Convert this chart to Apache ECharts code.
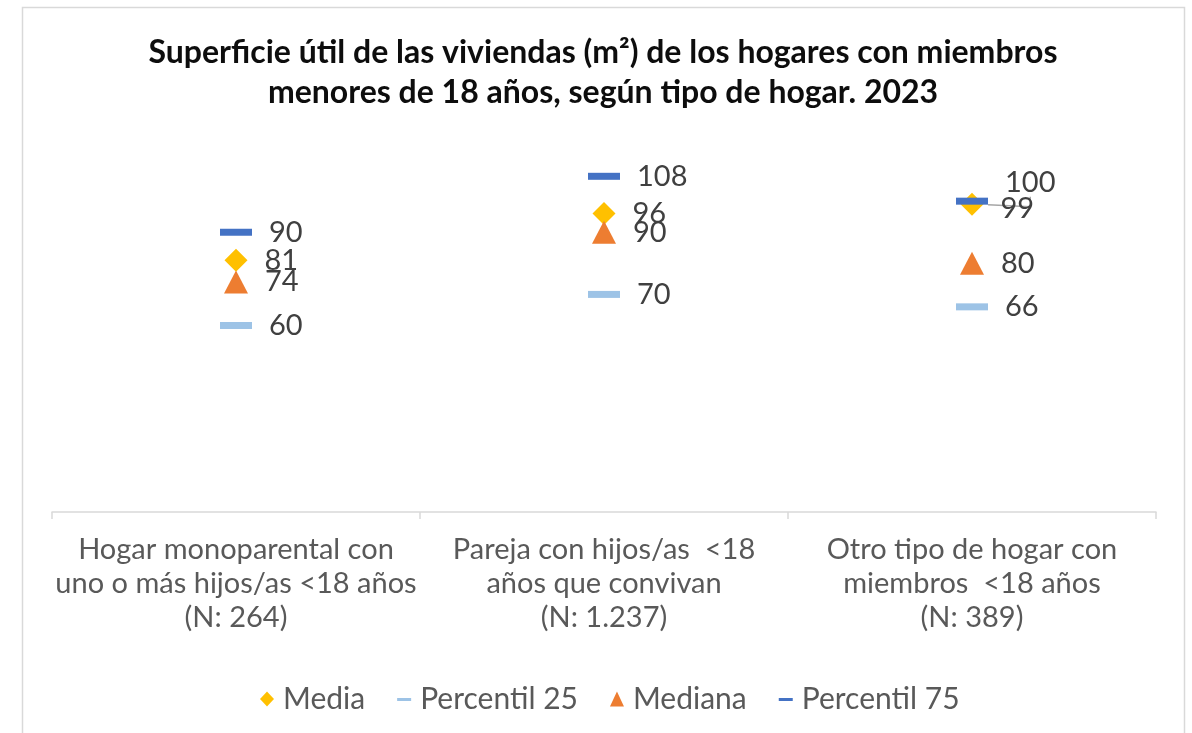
<!DOCTYPE html>
<html>
<head>
<meta charset="utf-8">
<title>Superficie útil de las viviendas</title>
<script src="https://cdn.jsdelivr.net/npm/echarts@6/dist/echarts.min.js"></script>
<style>
  html, body { margin: 0; padding: 0; background: #fff; }
  #main { width: 1192px; height: 733px; }
</style>
</head>
<body>
<div id="main"></div>
<script>
var categories = [
    'Hogar monoparental con\nuno o más hijos/as <18 años\n(N: 264)',
    'Pareja con hijos/as  <18\naños que convivan\n(N: 1.237)',
    'Otro tipo de hogar con\nmiembros  <18 años\n(N: 389)'
];
var media = [81, 96, 99];
var percentil25 = [60, 70, 66];
var mediana = [74, 90, 80];
var percentil75 = [90, 108, 100];

var myChart = echarts.init(document.getElementById('main'));

// thin dash icon for the legend, padded with invisible specks so it keeps its height
var dashIcon = 'path://M0,0L0.01,0L0.01,0.01Z M0,6.5L14,6.5L14,9.5L0,9.5Z M0,15L0.01,15L0.01,15.01Z';

var labelStyle = {
    show: true,
    position: 'right',
    distance: 17,
    fontFamily: 'Lato',
    fontSize: 29,
    color: '#404040'
};

// only the last P75 label was pulled away, with a leader line
var p75Data = percentil75.map(function (v, i) {
    if (i === 2) {
        return {value: v, labelLine: {show: true, length2: 10, lineStyle: {color: '#a6a6a6', width: 1.5}}};
    }
    return v;
});

var option = {
    animation: false,
    backgroundColor: '#fff',
    graphic: [{
        type: 'rect',
        shape: {x: 22.5, y: 7.5, width: 1162, height: 740},
        style: {fill: 'none', stroke: '#d9d9d9', lineWidth: 1.5},
        silent: true
    }],
    title: {
        text: 'Superficie útil de las viviendas (m²) de los hogares con miembros\nmenores de 18 años, según tipo de hogar. 2023',
        left: 598,
        textAlign: 'center',
        top: 28,
        textStyle: {
            fontFamily: 'Lato',
            fontWeight: 'bold',
            fontSize: 32,
            lineHeight: 40,
            color: '#0d0d0d'
        }
    },
    legend: {
        bottom: 14,
        left: 255,
        itemWidth: 14,
        itemHeight: 15,
        itemGap: 32,
        textStyle: {fontFamily: 'Lato', fontSize: 30, color: '#595959', padding: [0, 0, 0, 4]},
        data: [
            {name: 'Media', icon: 'diamond'},
            {name: 'Percentil 25', icon: dashIcon},
            {name: 'Mediana', icon: 'triangle'},
            {name: 'Percentil 75', icon: dashIcon}
        ]
    },
    grid: {left: 52, right: 36, top: 139, bottom: 221},
    xAxis: {
        type: 'category',
        data: categories,
        boundaryGap: true,
        axisLine: {lineStyle: {color: '#d9d9d9', width: 1.5}},
        axisTick: {show: true, length: 7, lineStyle: {color: '#d9d9d9', width: 1.5}},
        axisLabel: {
            interval: 0,
            margin: 21,
            fontFamily: 'Lato',
            fontSize: 29,
            lineHeight: 34,
            color: '#595959'
        }
    },
    yAxis: {
        type: 'value',
        min: 0,
        max: 120,
        show: false,
        splitLine: {show: false}
    },
    series: [
        {
            name: 'Media',
            type: 'scatter',
            data: media,
            symbol: 'diamond',
            symbolSize: 23,
            itemStyle: {color: '#ffc000', opacity: 1},
            label: labelStyle,
            labelLayout: function (params) {
                if (params.dataIndex === 2) {
                    return {dy: 4};
                }
            }
        },
        {
            name: 'Percentil 25',
            type: 'scatter',
            data: percentil25,
            symbol: 'rect',
            symbolSize: [32, 7],
            itemStyle: {color: '#9dc3e6', opacity: 1},
            label: labelStyle
        },
        {
            name: 'Mediana',
            type: 'scatter',
            data: mediana,
            symbol: 'triangle',
            symbolSize: [24, 23],
            itemStyle: {color: '#ed7d31', opacity: 1},
            label: labelStyle
        },
        {
            name: 'Percentil 75',
            type: 'scatter',
            data: p75Data,
            symbol: 'rect',
            symbolSize: [32, 7],
            itemStyle: {color: '#4472c4', opacity: 1},
            label: labelStyle,
            labelLayout: function (params) {
                // the last label was nudged up in the original to clear the 99
                if (params.dataIndex === 2) {
                    return {dy: -19};
                }
            }
        }
    ]
};

myChart.setOption(option);
</script>
</body>
</html>
